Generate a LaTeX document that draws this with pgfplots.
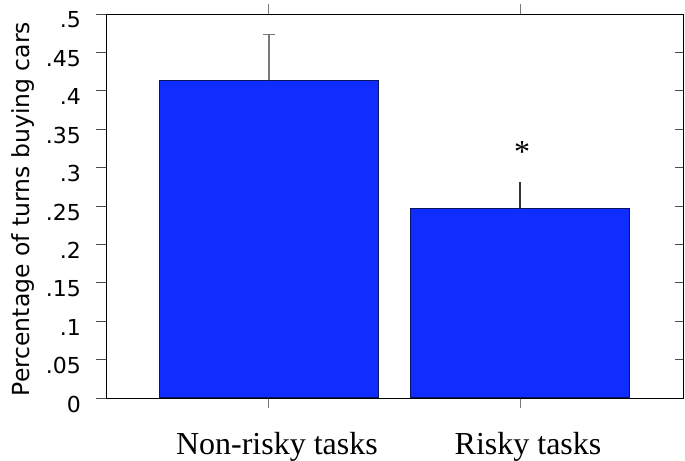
\documentclass[border=0pt]{standalone}
\usepackage{pgfplots}
\pgfplotsset{compat=1.18}
\usepackage{fontspec}
\setmainfont{Liberation Serif}
\newfontfamily\labfont{DejaVu Sans}
\definecolor{barblue}{RGB}{15,45,255}
\definecolor{baredge}{RGB}{10,20,100}
\definecolor{errgray}{RGB}{120,120,120}
\begin{document}
\begin{tikzpicture}
\begin{axis}[
  name=ax,
  scale only axis,
  width=577pt, height=384pt,
  xmin=-0.649, xmax=1.649,
  ymin=0, ymax=0.5,
  axis line style={black, line width=0.9pt},
  xtick={0,1},
  xticklabels={Non-risky tasks, Risky tasks},
  xtick pos=both,
  tick align=outside,
  major tick length=10pt,
  x tick style={errgray, line width=1pt},
  xticklabel style={font=\fontsize{32}{36}\selectfont, anchor=base, yshift=-47pt, xshift=8pt},
  ytick={0,0.05,0.1,0.15,0.2,0.25,0.3,0.35,0.4,0.45,0.5},
  yticklabels={0,.05,.1,.15,.2,.25,.3,.35,.4,.45,.5},
  ytick pos=left,
  y tick style={black!70, line width=0.9pt},
  yticklabel style={font=\labfont\fontsize{22}{24}\selectfont, inner sep=0pt, xshift=-15pt, yshift=-6pt},
  ylabel={Percentage of turns buying cars},
  ylabel style={font=\labfont\fontsize{23.5}{26}\selectfont, at={(axis description cs:-0.132,0.492)}, anchor=base},
]
\addplot[ybar, bar width=219pt, bar shift=0pt, fill=barblue, draw=baredge, line width=1pt,
  error bars/.cd, y dir=plus, y explicit,
  error bar style={errgray, line width=1.3pt},
  error mark options={rotate=90, mark size=6pt, errgray, line width=1.3pt}]
  coordinates {(0,0.414) +- (0,0.059)};
\addplot[ybar, bar width=219pt, bar shift=0pt, fill=barblue, draw=baredge, line width=1pt,
  error bars/.cd, y dir=plus, y explicit,
  error bar style={black!80, line width=1.1pt},
  error mark=none]
  coordinates {(1,0.247) +- (0,0.034)};
\node[anchor=base, font=\fontsize{32}{36}\selectfont] at (axis cs:1.008,0.306) {*};
\end{axis}
\begin{axis}[
  scale only axis,
  width=577pt, height=384pt,
  xmin=-0.649, xmax=1.649,
  ymin=0, ymax=0.5,
  axis line style={black, line width=0.9pt},
  xtick=\empty,
  ytick={0,0.05,0.1,0.15,0.2,0.25,0.3,0.35,0.4,0.45,0.5},
  yticklabels={},
  ytick pos=right,
  tick align=inside,
  major tick length=8pt,
  y tick style={black!70, line width=0.9pt},
]
\end{axis}
\pgfresetboundingbox
\path ([shift={(-106pt,-63pt)}]ax.south west) rectangle ([shift={(2pt,14pt)}]ax.north east);
\end{tikzpicture}
\end{document}
